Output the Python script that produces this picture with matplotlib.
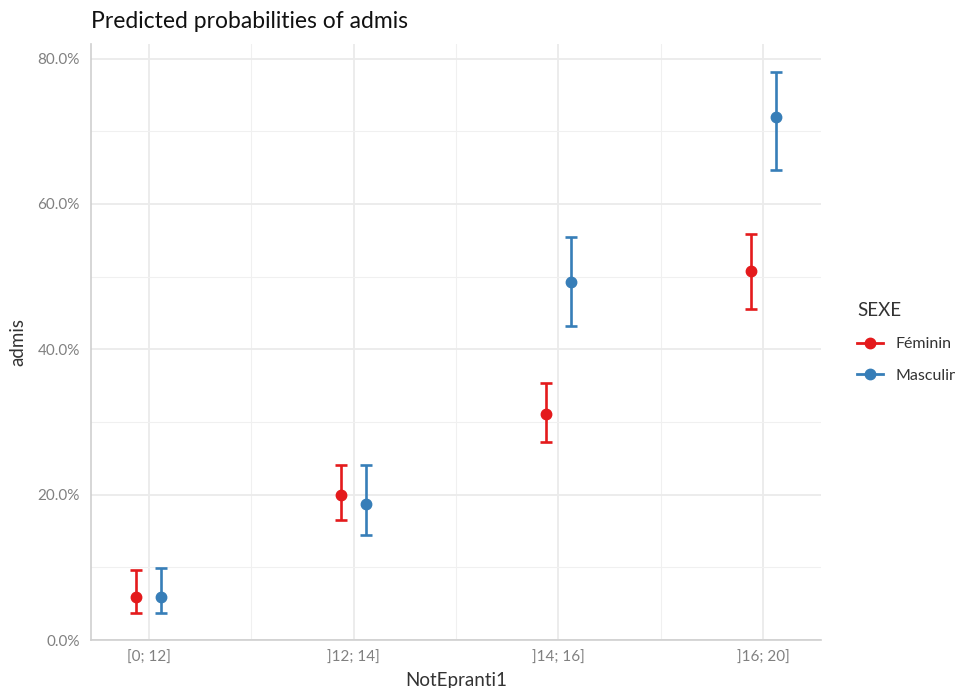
import matplotlib
matplotlib.use("Agg")
import matplotlib.pyplot as plt
from matplotlib.lines import Line2D
import numpy as np

plt.rcParams['font.family'] = ['Lato', 'DejaVu Sans']

categories = ["[0; 12]", "]12; 14]", "]14; 16]", "]16; 20]"]
groups = ["Féminin", "Masculin"]
colors = ["#e41a1c", "#377eb8"]

# predicted probabilities (%) and confidence intervals
fem_pred = [5.9, 19.9, 31.1, 50.7]
fem_low = [3.7, 16.5, 27.2, 45.6]
fem_high = [9.6, 24.1, 35.3, 55.8]

mas_pred = [5.9, 18.7, 49.3, 71.9]
mas_low = [3.7, 14.4, 43.2, 64.6]
mas_high = [9.9, 24.1, 55.4, 78.2]

fig = plt.figure(figsize=(9.55, 6.88), dpi=100)
ax = fig.add_axes([91/955, 48/688, 730/955, 596/688])

x = np.arange(1, len(categories) + 1)
dodge = 0.061
series = [(fem_pred, fem_low, fem_high), (mas_pred, mas_low, mas_high)]
for i, (p, lo, hi) in enumerate(series):
    p = np.array(p); lo = np.array(lo); hi = np.array(hi)
    xs = x + (-dodge if i == 0 else dodge)
    ax.errorbar(xs, p, yerr=[p - lo, hi - p], fmt='o', color=colors[i],
                ms=7.5, elinewidth=1.9, capsize=4.5, capthick=1.9, zorder=3)

ax.set_xlim(0.717, 4.283)
ax.set_ylim(0, 82)
ax.set_xticks(x)
ax.set_xticklabels(categories)
ax.set_xticks([1.5, 2.5, 3.5], minor=True)
ax.set_yticks([0, 20, 40, 60, 80])
ax.set_yticklabels(["0.0%", "20.0%", "40.0%", "60.0%", "80.0%"])
ax.set_yticks([10, 30, 50, 70], minor=True)

ax.grid(which='major', color='#ebebeb', linewidth=1.3)
ax.grid(which='minor', color='#f0f0f0', linewidth=0.8)
ax.set_axisbelow(True)
for s in ['top', 'right']:
    ax.spines[s].set_visible(False)
for s in ['left', 'bottom']:
    ax.spines[s].set_color('#cfcfcf')
    ax.spines[s].set_linewidth(1.2)
ax.tick_params(which='both', length=0, labelsize=11, labelcolor='#808080', pad=8)

ax.set_xlabel("NotEpranti1", fontsize=13.5, color='#333333', labelpad=5)
ax.set_ylabel("admis", fontsize=13.5, color='#333333', labelpad=8)
fig.text(91/955, 1 - 21/688, "Predicted probabilities of admis", fontsize=16.5,
         color='#111111', va='center', ha='left')

handles = [Line2D([0], [0], color=c, marker='o', ms=7.5, lw=2) for c in colors]
leg = fig.legend(handles, groups, loc='upper left', bbox_to_anchor=(843/955, 1 - 288/688),
                 frameon=False, title="SEXE", fontsize=11.5, title_fontsize=13.5,
                 handlelength=1.6, labelspacing=1.1, alignment='left')
leg.get_title().set_color('#333333')
for t in leg.get_texts():
    t.set_color('#333333')

fig.savefig("out.png", dpi=100)
